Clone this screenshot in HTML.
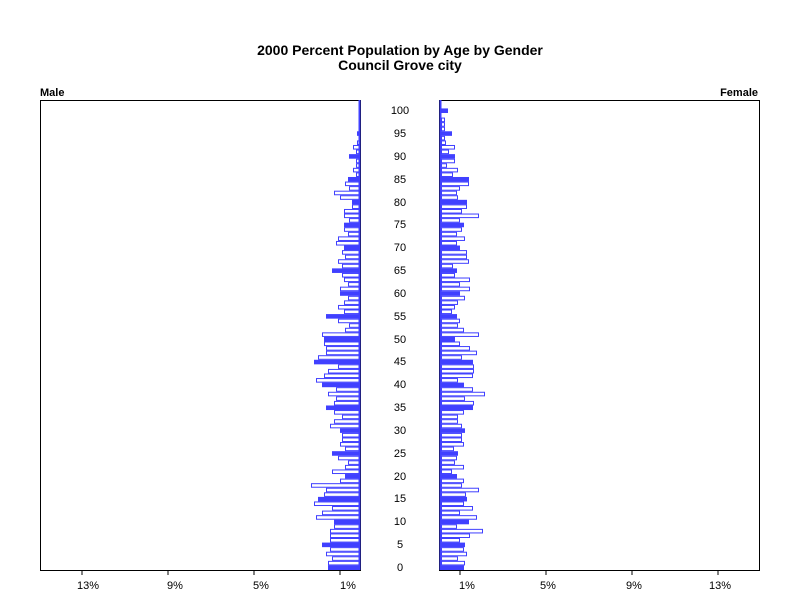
<!DOCTYPE html>
<html><head><style>
body{margin:0;background:#fff;}
svg{display:block;font-family:"Liberation Sans",sans-serif;}
</style></head><body>
<svg id="s" width="800" height="600" xmlns="http://www.w3.org/2000/svg">
<text x="400" y="55" font-size="14" text-anchor="middle" font-weight="bold">2000 Percent Population by Age by Gender</text>
<text x="400" y="70" font-size="14" text-anchor="middle" font-weight="bold">Council Grove city</text>
<text x="40" y="96" font-size="11" font-weight="bold">Male</text>
<text x="758" y="96" font-size="11" font-weight="bold" text-anchor="end">Female</text>
<rect x="40.5" y="100.5" width="320" height="470" fill="none" stroke="#000"/>
<rect x="439.5" y="100.5" width="320" height="470" fill="none" stroke="#000"/>
<g stroke="#000"><line x1="82" y1="570" x2="82" y2="575"/><line x1="168" y1="570" x2="168" y2="575"/><line x1="254" y1="570" x2="254" y2="575"/><line x1="340" y1="570" x2="340" y2="575"/>
<line x1="460" y1="570" x2="460" y2="575"/><line x1="546" y1="570" x2="546" y2="575"/><line x1="632" y1="570" x2="632" y2="575"/><line x1="718" y1="570" x2="718" y2="575"/></g>
<g font-size="11" text-anchor="middle">
<text x="88" y="589">13%</text><text x="175" y="589">9%</text><text x="261" y="589">5%</text><text x="348" y="589">1%</text>
<text x="467" y="589">1%</text><text x="548" y="589">5%</text><text x="634" y="589">9%</text><text x="720" y="589">13%</text>
</g>
<g font-size="11" text-anchor="middle">
<text x="400" y="571">0</text><text x="400" y="548">5</text><text x="400" y="525">10</text><text x="400" y="502">15</text><text x="400" y="480">20</text><text x="400" y="457">25</text><text x="400" y="434">30</text><text x="400" y="411">35</text><text x="400" y="388">40</text><text x="400" y="365">45</text><text x="400" y="343">50</text><text x="400" y="320">55</text><text x="400" y="297">60</text><text x="400" y="274">65</text><text x="400" y="251">70</text><text x="400" y="228">75</text><text x="400" y="206">80</text><text x="400" y="183">85</text><text x="400" y="160">90</text><text x="400" y="137">95</text><text x="400" y="114">100</text>
</g>
<g id="bars"></g>
<line x1="359.5" y1="100" x2="359.5" y2="570" stroke="#4040ff" stroke-width="2"/>
<line x1="440.5" y1="100" x2="440.5" y2="570" stroke="#4040ff" stroke-width="2"/>
</svg>
<script>
var m=[328,328,332,326,330,322,330,330,330,334,334,316,322,332,314,318,324,326,311,340,345,332,345,348,338,332,345,340,342,342,340,330,334,342,334,326,334,336,328,336,322,316,324,328,338,314,318,326,326,324,324,322,345,349,338,326,344,338,344,348,340,340,348,344,342,332,342,338,345,342,344,336,338,348,344,344,349,344,344,352,352,340,334,349,345,348,356,353,356,356,349,356,353,357,360,357,360,360,360,360,360];
var f=[463,464,457,466,463,464,459,469,482,456,468,476,459,472,463,466,465,478,461,463,456,451,463,454,456,457,453,463,461,461,464,461,457,457,463,472,473,464,484,472,463,457,472,473,473,472,461,476,469,459,454,478,463,457,459,456,451,454,457,464,459,469,459,469,454,456,452,468,466,466,459,456,464,456,461,463,459,478,461,466,466,457,456,459,468,468,452,457,446,454,454,448,454,445,444,451,444,444,444,440,447];
var g=document.getElementById('bars'),h=4.57,out='';
for(var a=0;a<=100;a++){
 var y1=570-(a+1)*h,fill=(a%5==0)?'#4040ff':'#fff';
 if(m[a]<360) out+='<rect x="'+(m[a]+0.5)+'" y="'+(y1+0.5).toFixed(2)+'" width="'+(359-m[a])+'" height="'+(h-1).toFixed(2)+'" fill="'+fill+'" stroke="#4040ff" stroke-width="1"/>';
 if(f[a]>440) out+='<rect x="441.5" y="'+(y1+0.5).toFixed(2)+'" width="'+(f[a]-441)+'" height="'+(h-1).toFixed(2)+'" fill="'+fill+'" stroke="#4040ff" stroke-width="1"/>';
}
g.innerHTML=out;
</script>
</body></html>
